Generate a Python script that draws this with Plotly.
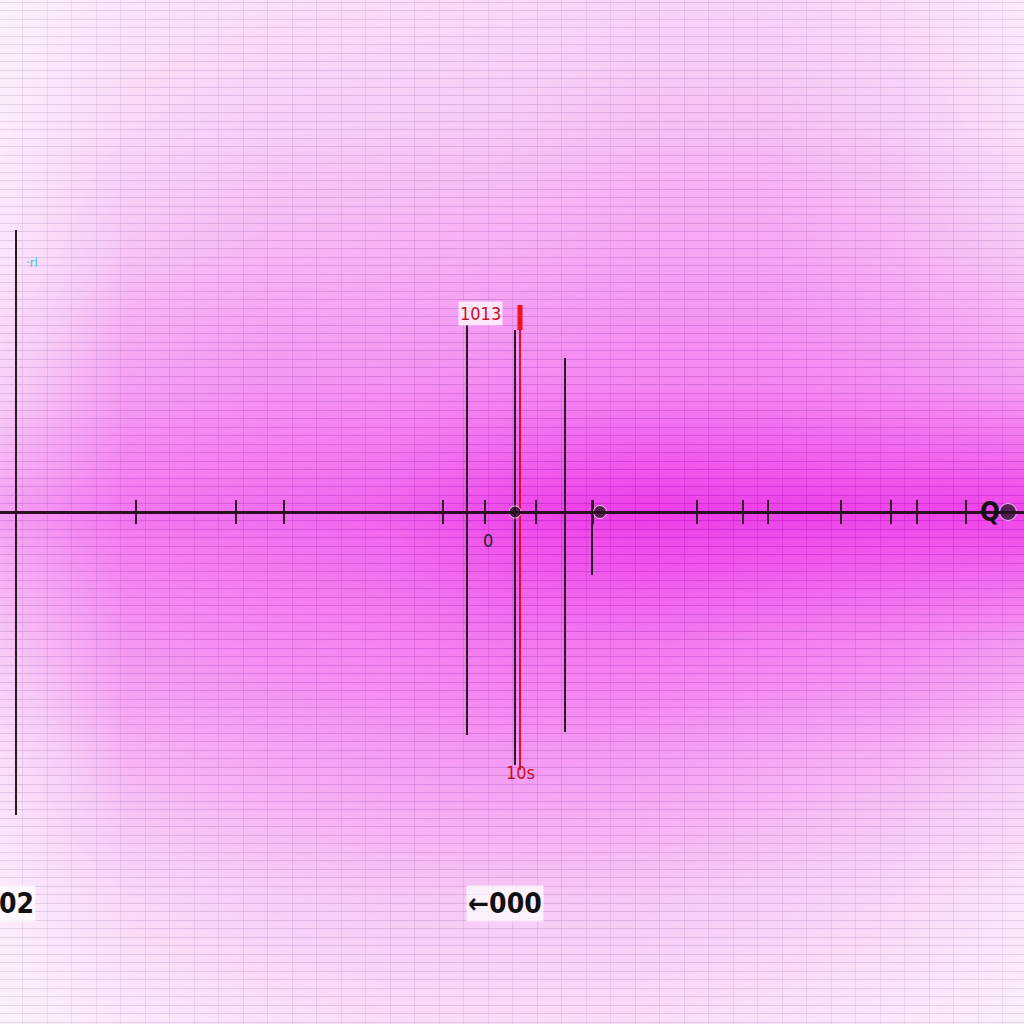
import plotly.graph_objects as go

# ---- data (chart units) ----
bg_x = [-4.88, -3.6, -2.32, -1.04, 0.24, 1.52, 2.8, 4.08, 5.36]
bg_y = [5.12, 3.84, 2.56, 1.28, 0.0, -1.28, -2.56, -3.84, -5.12]
bg_z = [
    [0.04, 0.12, 0.16, 0.18, 0.20, 0.24, 0.24, 0.18, 0.08],
    [0.08, 0.22, 0.28, 0.30, 0.32, 0.36, 0.36, 0.30, 0.16],
    [0.12, 0.34, 0.40, 0.42, 0.44, 0.48, 0.48, 0.42, 0.32],
    [0.26, 0.50, 0.55, 0.56, 0.60, 0.62, 0.62, 0.58, 0.50],
    [0.50, 0.70, 0.74, 0.80, 0.94, 1.00, 0.98, 0.96, 0.96],
    [0.32, 0.55, 0.60, 0.64, 0.70, 0.70, 0.66, 0.62, 0.54],
    [0.16, 0.40, 0.45, 0.50, 0.52, 0.50, 0.45, 0.40, 0.28],
    [0.08, 0.22, 0.28, 0.32, 0.32, 0.32, 0.28, 0.22, 0.12],
    [0.04, 0.10, 0.14, 0.18, 0.18, 0.18, 0.14, 0.10, 0.06],
]

spike_x = [-4.72, -0.21, 0.27, 0.77, 1.04]
spike_top = [2.82, 1.87, 1.82, 1.54, 0.12]
spike_bottom = [-3.03, -2.23, -2.53, -2.20, -0.63]

red_x = [0.32]
red_top = [2.07]
red_bottom = [-2.58]
red_cap_top = [2.07]
red_cap_bottom = [1.82]

tick_x = [-3.52, -2.52, -2.04, -0.45, -0.03, 0.48, 1.05, 2.09, 2.55, 2.80, 3.53, 4.03, 4.29, 4.78]
dot_x = [0.27, 1.12, 5.20]
dot_size = [12, 13, 17]

labels = ["1013", "10s", "0", "02", "←000", "Q", "·rl"]
label_x = [-0.08, 0.32, 0.0, -4.72, 0.17, 5.02, -4.56]
label_y = [1.99, -2.60, -0.28, -3.91, -3.91, 0.0, 2.50]
label_color = ["#c8102a", "#c8102a", "#222222", "#111111", "#111111", "#111111", "#3cc6cf"]
label_size = [18, 18, 18, 28, 28, 26, 13]
label_bold = [False, False, False, True, True, True, False]

# ---- build ----
fig = go.Figure()
fig.add_trace(go.Heatmap(
    x=bg_x, y=bg_y, z=bg_z, zsmooth="best", showscale=False, opacity=0.76,
    zmin=0, zmax=1, hoverinfo="skip",
    colorscale=[[0, "#fdf6fd"], [0.3, "#f6bcf4"], [0.6, "#f266ee"], [1, "#e800e2"]],
))

def segs(xs, tops, bots):
    X, Y = [], []
    for x, t, b in zip(xs, tops, bots):
        X += [x, x, None]
        Y += [t, b, None]
    return X, Y

sx, sy = segs(spike_x, spike_top, spike_bottom)
fig.add_trace(go.Scatter(x=sx, y=sy, mode="lines", line=dict(color="#2a1a24", width=2),
                         hoverinfo="skip", showlegend=False))
rx, ry = segs(red_x, red_top, red_bottom)
fig.add_trace(go.Scatter(x=rx, y=ry, mode="lines", line=dict(color="#e0102a", width=2),
                         hoverinfo="skip", showlegend=False))
cx, cy = segs(red_x, red_cap_top, red_cap_bottom)
fig.add_trace(go.Scatter(x=cx, y=cy, mode="lines", line=dict(color="#f0101e", width=5),
                         hoverinfo="skip", showlegend=False))
fig.add_trace(go.Scatter(x=tick_x, y=[0] * len(tick_x), mode="markers",
                         marker=dict(symbol="line-ns", size=17, line=dict(color="#2a1020", width=2)),
                         hoverinfo="skip", showlegend=False))
fig.add_trace(go.Scatter(x=dot_x, y=[0] * len(dot_x), mode="markers",
                         marker=dict(symbol="circle", size=dot_size, color="#111111"),
                         hoverinfo="skip", showlegend=False))

for t, x, y, c, s, b in zip(labels, label_x, label_y, label_color, label_size, label_bold):
    fig.add_annotation(x=x, y=y, text=f"<b>{t}</b>" if b else t, showarrow=False,
                       font=dict(family="DejaVu Sans Condensed, DejaVu Sans", size=s, color=c),
                       bgcolor="rgba(255,255,255,0.75)" if t in ("1013", "←000", "02") else None)

fig.update_layout(
    width=1024, height=1024, margin=dict(l=0, r=0, t=0, b=0),
    paper_bgcolor="#ffffff", plot_bgcolor="#ffffff", showlegend=False,
    xaxis=dict(range=[-4.88, 5.36], dtick=0.245, tick0=0, showgrid=True,
               gridcolor="rgba(70,80,130,0.4)", gridwidth=1, zeroline=False,
               showticklabels=False, ticks="", showline=True, linecolor="#2a1020",
               linewidth=3, anchor="free", position=0.5, layer="above traces"),
    yaxis=dict(range=[-5.12, 5.12], dtick=0.085, tick0=0, showgrid=True,
               gridcolor="rgba(60,70,120,0.6)", gridwidth=1, zeroline=False,
               showticklabels=False, ticks="", showline=False),
)

fig.write_html("out.html", config={"displayModeBar": False},
               post_script="document.body.style.margin='0';document.body.style.padding='0';")
